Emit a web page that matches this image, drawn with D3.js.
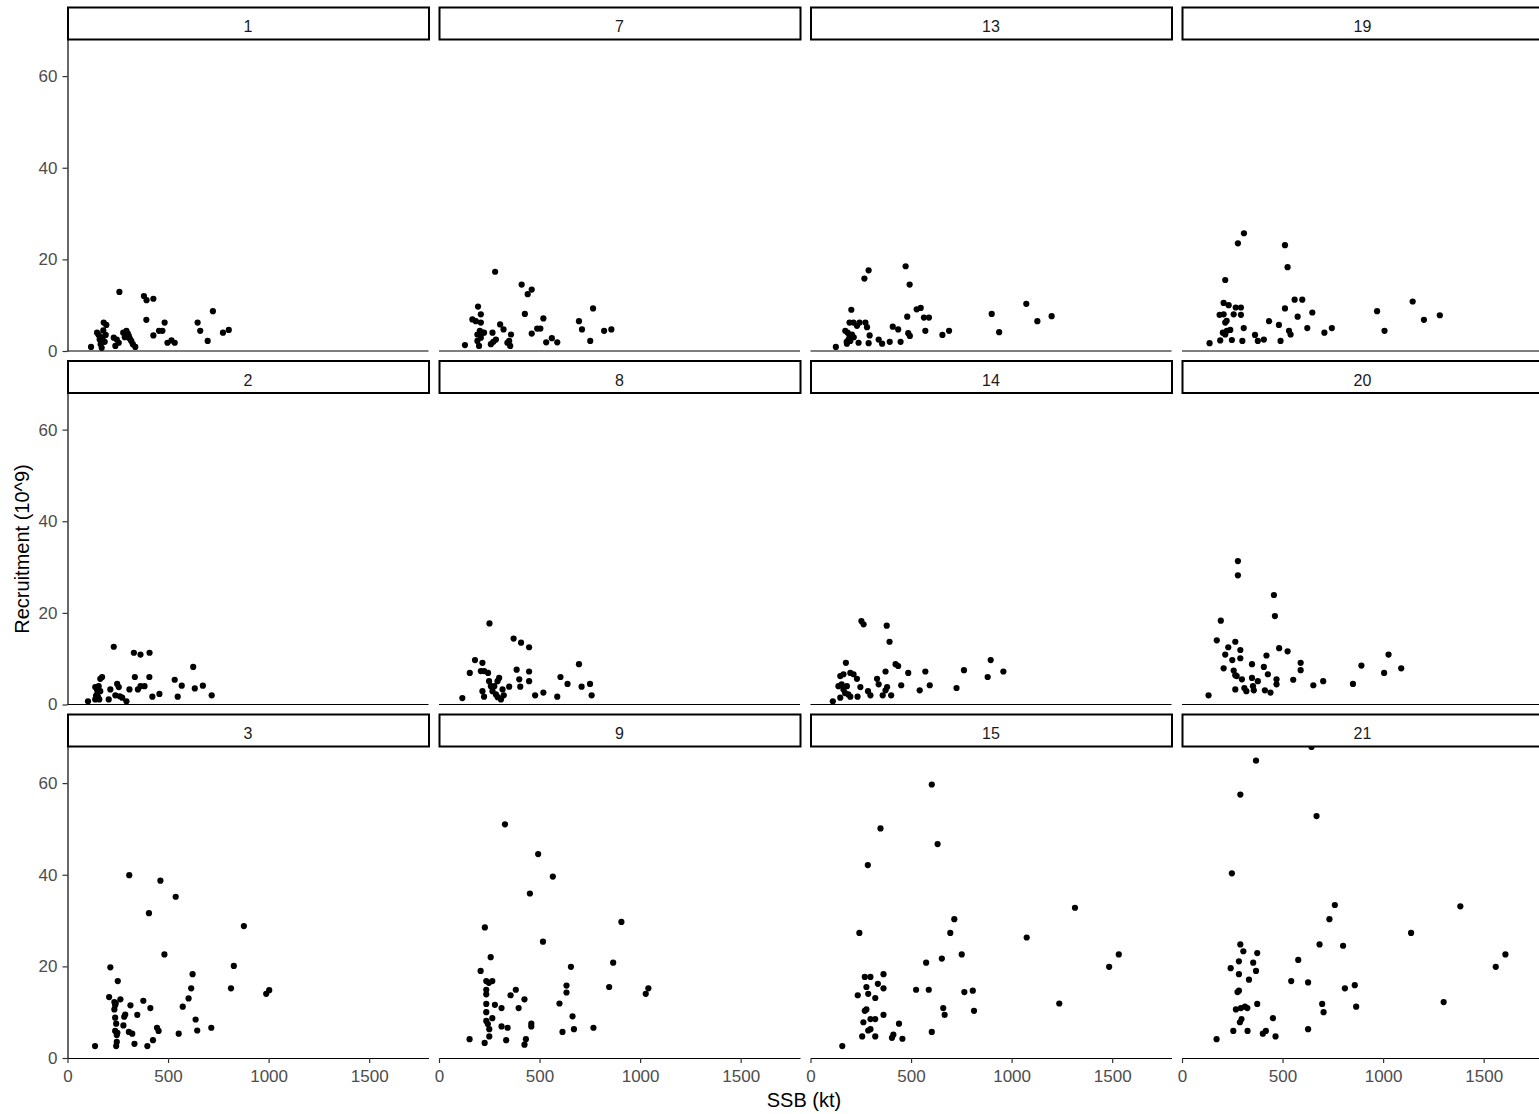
<!DOCTYPE html>
<html>
<head>
<meta charset="utf-8">
<script src="https://cdn.jsdelivr.net/npm/d3@7/dist/d3.min.js"></script>
<style>
  body { margin: 0; background: #fff; }
  text { font-family: "Liberation Sans", Arial, sans-serif; }
</style>
</head>
<body>
<svg id="chart"></svg>
<script>
// facet labels, in the order ggplot lays them out (down each column)
const facetLabels = ["1", "2", "3", "7", "8", "9", "13", "14", "15", "19", "20", "21"];
const xTicks = [0, 500, 1000, 1500];
const yTicks = [0, 20, 40, 60];

// [SSB (kt), Recruitment (10^9)]
const p1 = [[117,0.9],[147,4.0],[155,3.5],[160,2.5],[163,2.9],[165,1.5],[170,0.7],[172,2.2],[175,3.0],[178,4.5],[180,6.2],[185,2.0],[190,3.5],[193,5.7],[230,2.9],[238,1.1],[245,2.5],[255,1.8],[258,12.9],[277,4.0],[285,3.0],[293,4.4],[300,3.8],[305,3.3],[310,2.7],[317,2.2],[325,1.5],[337,0.9],[380,12.0],[393,11.1],[427,11.4],[392,6.8],[427,3.4],[455,4.4],[472,4.4],[483,6.2],[497,1.8],[517,2.3],[533,1.8],[647,6.2],[660,4.4],[697,2.2],[723,8.7],[773,4.0],[802,4.6]];
const p2 = [[102,0.7],[138,3.8],[147,3.2],[155,4.0],[163,5.6],[172,6.0],[138,1.1],[147,2.2],[152,1.6],[163,2.9],[142,1.9],[158,1.1],[205,1.1],[213,3.3],[230,12.6],[238,2.0],[247,4.5],[255,3.8],[260,1.8],[272,1.5],[293,0.7],[308,3.3],[330,11.3],[363,10.9],[408,11.3],[335,6.0],[350,3.3],[363,4.0],[383,4.0],[407,6.0],[422,1.7],[457,2.3],[533,5.4],[548,1.7],[568,4.1],[625,8.2],[633,3.5],[673,4.1],[717,2.0]];
const p3 = [[137,2.6],[207,13.3],[213,19.8],[233,12.2],[237,11.5],[233,10.6],[240,12.0],[237,8.8],[242,7.5],[237,5.9],[248,5.5],[245,5.0],[245,3.5],[242,2.6],[250,16.8],[263,12.8],[278,7.1],[282,9.0],[287,9.5],[307,39.9],[305,5.7],[322,5.3],[313,11.5],[333,3.1],[347,9.4],[377,12.5],[397,2.6],[405,31.6],[412,10.9],[425,3.9],[445,6.6],[453,5.9],[462,38.7],[482,22.6],[538,35.2],[553,5.3],[573,11.2],[602,13.0],[615,15.2],[622,18.3],[637,8.4],[645,6.0],[715,6.6],[813,15.2],[827,20.1],[877,28.8],[988,14.0],[1003,14.8]];
const p7 = [[129,1.3],[194,9.7],[208,8.0],[166,6.9],[183,6.5],[208,6.2],[191,3.6],[203,4.4],[216,4.0],[191,2.2],[199,1.1],[208,2.9],[224,4.0],[266,4.0],[258,1.5],[283,2.5],[270,2.0],[279,17.3],[304,5.8],[321,4.7],[358,3.6],[349,2.2],[354,1.1],[340,1.8],[411,14.5],[441,12.4],[461,13.4],[427,8.1],[461,3.8],[488,4.9],[504,4.9],[519,7.1],[533,1.9],[561,2.8],[588,1.9],[696,6.5],[711,4.7],[766,9.3],[752,2.2],[821,4.4],[857,4.7]];
const p8 = [[116,1.4],[153,6.9],[179,9.7],[216,9.1],[208,7.3],[225,7.3],[244,6.9],[216,2.9],[224,1.7],[251,17.7],[249,5.1],[258,4.0],[266,2.9],[283,2.2],[292,1.6],[308,1.1],[299,5.8],[291,5.1],[316,3.3],[322,2.0],[349,3.9],[275,4.0],[371,14.4],[408,13.5],[448,12.5],[386,7.6],[399,5.5],[404,3.9],[448,7.2],[448,5.1],[478,2.0],[519,2.6],[588,1.7],[604,6.0],[639,4.5],[696,8.8],[709,3.9],[751,4.5],[759,2.0]];
const p9 = [[152,4.1],[207,19.0],[228,28.5],[227,3.3],[235,16.8],[248,16.4],[265,16.8],[235,14.9],[235,13.9],[257,22.0],[235,11.8],[235,10.0],[235,8.1],[243,7.4],[250,6.3],[250,4.7],[265,8.7],[278,11.6],[311,10.9],[311,6.9],[341,6.6],[334,3.9],[328,51.0],[356,13.7],[382,14.9],[396,10.9],[425,12.8],[425,2.9],[432,4.1],[452,35.9],[459,7.5],[459,6.9],[493,44.5],[517,25.4],[566,39.6],[599,11.9],[614,5.7],[634,15.8],[634,14.3],[656,19.9],[664,9.1],[671,6.3],[768,6.6],[846,15.5],[866,20.8],[907,29.7],[1028,14.0],[1041,15.2]];
const p13 = [[126,0.9],[181,1.6],[189,2.5],[195,3.2],[203,9.0],[194,6.2],[214,6.2],[244,6.2],[273,6.2],[231,5.5],[281,5.2],[173,4.4],[185,4.0],[206,3.6],[215,3.0],[198,2.2],[239,1.8],[180,2.0],[294,3.4],[289,1.7],[268,15.8],[289,17.6],[339,2.5],[356,1.6],[394,2.0],[448,2.0],[409,5.3],[436,4.7],[473,18.5],[493,14.5],[481,7.5],[486,3.9],[494,3.3],[528,9.1],[548,9.4],[564,7.3],[589,7.3],[571,4.4],[656,3.5],[689,4.4],[901,8.1],[938,4.1],[1073,10.3],[1128,6.5],[1199,7.6]];
const p14 = [[111,0.7],[148,1.5],[139,4.0],[155,4.4],[164,3.3],[172,2.5],[181,4.0],[188,2.2],[198,1.7],[148,6.2],[164,6.6],[198,6.9],[214,6.6],[231,5.6],[176,9.1],[248,3.8],[234,1.7],[253,18.2],[264,17.5],[286,2.9],[298,2.0],[331,5.6],[339,4.4],[359,2.0],[373,3.1],[381,3.8],[401,2.0],[373,7.2],[379,17.2],[393,13.7],[423,8.8],[436,8.4],[451,4.2],[486,6.9],[543,3.1],[571,7.2],[593,4.2],[726,3.6],[763,7.5],[881,6.0],[896,9.7],[959,7.2]];
const p15 = [[158,2.6],[235,13.7],[243,27.3],[257,4.7],[263,7.8],[270,17.7],[298,17.7],[270,10.3],[278,10.6],[278,15.5],[287,14.0],[285,42.1],[287,6.0],[298,6.3],[298,8.5],[322,8.5],[322,13.1],[322,4.7],[335,16.2],[348,50.1],[363,18.3],[363,15.2],[363,9.4],[405,4.4],[412,5.1],[440,7.5],[457,4.2],[525,14.9],[575,20.8],[588,14.9],[603,59.7],[603,5.7],[632,46.7],[653,21.7],[660,10.9],[667,9.4],[695,27.3],[715,30.3],[752,22.6],[765,14.4],[807,14.7],[813,10.3],[1075,26.3],[1237,11.9],[1315,32.8],[1485,19.9],[1533,22.6]];
const p19 = [[137,1.7],[190,2.3],[215,3.6],[203,4.0],[223,4.4],[240,4.6],[248,2.4],[300,2.2],[307,5.0],[215,15.5],[207,10.5],[232,10.0],[187,7.9],[207,8.0],[215,6.2],[222,6.6],[257,8.0],[267,9.5],[293,9.5],[293,7.9],[278,23.5],[308,25.7],[363,3.5],[377,2.2],[407,2.5],[433,6.5],[482,5.7],[490,2.2],[512,23.1],[525,18.3],[512,9.3],[560,11.2],[598,11.2],[532,4.4],[540,3.6],[575,7.5],[623,5.0],[648,8.4],[708,4.0],[745,5.0],[970,8.7],[1007,4.4],[1147,10.8],[1203,6.8],[1282,7.8]];
const p20 = [[132,2.0],[173,14.0],[193,18.3],[207,7.9],[215,10.9],[230,12.5],[250,9.7],[265,13.7],[257,7.4],[265,6.4],[272,6.2],[265,3.3],[278,31.3],[278,28.2],[290,11.9],[290,10.1],[298,5.5],[310,3.6],[320,2.9],[348,8.8],[348,5.8],[353,4.0],[357,3.1],[377,5.1],[407,8.2],[412,3.1],[420,10.7],[427,6.6],[440,2.6],[457,23.9],[462,19.3],[470,5.5],[470,4.4],[483,12.3],[525,11.6],[553,5.4],[590,9.1],[590,7.5],[653,4.2],[702,5.1],[850,4.5],[892,8.5],[1005,6.9],[1027,10.9],[1090,7.9]];
const p21 = [[172,4.1],[242,19.6],[248,40.3],[255,5.9],[268,10.6],[276,14.4],[283,14.7],[283,18.3],[283,21.1],[290,24.8],[290,57.5],[288,7.8],[296,8.5],[293,10.9],[305,23.3],[313,11.2],[325,10.9],[326,5.9],[333,17.1],[354,20.8],[368,19.0],[368,64.9],[374,22.9],[374,11.8],[402,5.3],[417,5.9],[452,8.7],[465,4.7],[543,16.8],[578,21.4],[627,16.5],[627,6.3],[644,67.9],[669,52.8],[684,24.8],[697,11.8],[704,10.0],[733,30.3],[760,33.4],[801,24.5],[810,15.2],[859,15.9],[866,11.2],[1139,27.3],[1301,12.2],[1384,33.1],[1560,19.9],[1608,22.6]];

const panels = [p1, p2, p3, p7, p8, p9, p13, p14, p15, p19, p20, p21];

const width = 1539, height = 1114;
const nRows = 3;
const panelLeft = 67.5, colStep = 371.5, panelW = 361;
const panelTop = 7, rowStep = 353.5, stripH = 32, panelH = 312;

const svg = d3.select("#chart")
  .attr("width", width)
  .attr("height", height);

const x = d3.scaleLinear().domain([0, 1795]).range([0, panelW]);
const y = d3.scaleLinear().domain([0, 68.1]).range([panelH, 0]);

function styleAxis(sel) {
  sel.select(".domain").attr("stroke", "#000").attr("stroke-width", 1.2);
  sel.selectAll(".tick line").attr("stroke", "#333").attr("stroke-width", 1.2);
  sel.selectAll(".tick text").attr("fill", "#4D4D4D").style("font-size", "17px")
    .style("font-family", "Liberation Sans, Arial, sans-serif");
}

panels.forEach((pts, i) => {
  const col = Math.floor(i / nRows);
  const row = i % nRows;
  const px = panelLeft + col * colStep;
  const py = panelTop + row * rowStep + stripH;

  const g = svg.append("g").attr("transform", `translate(${px},${py})`);

  svg.append("clipPath").attr("id", "clip" + i)
    .append("rect").attr("width", panelW).attr("height", panelH);

  g.append("g").attr("clip-path", `url(#clip${i})`)
    .selectAll("circle")
    .data(pts)
    .enter()
    .append("circle")
    .attr("cx", d => x(d[0]))
    .attr("cy", d => y(d[1]))
    .attr("r", 3.1)
    .attr("fill", "#000");

  // bottom axis line on every panel, ticks only on the last row
  if (row === nRows - 1) {
    g.append("g").attr("transform", `translate(0,${panelH})`)
      .call(d3.axisBottom(x).tickValues(xTicks).tickFormat(d3.format("d"))
        .tickSize(5).tickPadding(7).tickSizeOuter(0))
      .call(styleAxis);
  } else {
    g.append("line")
      .attr("x1", 0).attr("x2", panelW)
      .attr("y1", panelH).attr("y2", panelH)
      .attr("stroke", "#000").attr("stroke-width", 1.2);
  }

  if (col === 0) {
    g.append("g")
      .call(d3.axisLeft(y).tickValues(yTicks).tickFormat(d3.format("d"))
        .tickSize(5).tickPadding(5).tickSizeOuter(0))
      .call(styleAxis);
  }

  // strip
  const strip = svg.append("g").attr("transform", `translate(${px},${py - stripH})`);
  strip.append("rect")
    .attr("x", 0.5).attr("y", 0.5)
    .attr("width", panelW).attr("height", stripH)
    .attr("fill", "#fff").attr("stroke", "#000").attr("stroke-width", 2);
  strip.append("text")
    .attr("x", panelW / 2).attr("y", stripH / 2 + 5)
    .attr("text-anchor", "middle")
    .attr("dominant-baseline", "middle")
    .attr("fill", "#1A1A1A")
    .style("font-size", "16px")
    .text(facetLabels[i]);
});

svg.append("text")
  .attr("x", 804).attr("y", 1107)
  .attr("text-anchor", "middle")
  .style("font-size", "20px")
  .text("SSB (kt)");

svg.append("text")
  .attr("transform", "translate(29,549) rotate(-90)")
  .attr("text-anchor", "middle")
  .style("font-size", "20px")
  .text("Recruitment (10^9)");
</script>
</body>
</html>
